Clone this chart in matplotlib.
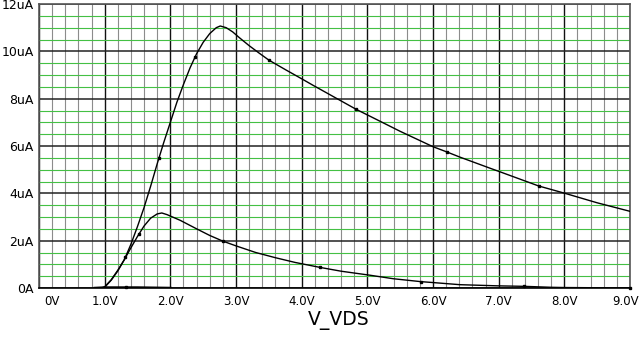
import matplotlib
matplotlib.use('Agg')

from matplotlib import pyplot as plt
from matplotlib.ticker import MultipleLocator
from matplotlib.transforms import ScaledTranslation

# upper trace (V, uA)
big_v = [0.85, 0.95, 1.0, 1.1, 1.2, 1.3, 1.4, 1.5, 1.6, 1.7, 1.8, 1.9, 2.0,
         2.1, 2.2, 2.3, 2.4, 2.5, 2.6, 2.7, 2.76, 2.85, 2.95, 3.05, 3.2,
         3.35, 3.5, 3.75, 4.0, 4.17, 4.5, 4.83, 5.14, 5.5, 6.0, 6.21, 6.41,
         6.87, 7.02, 7.61, 8.01, 8.5, 9.0]
big_i = [0.0, 0.0, 0.03, 0.33, 0.72, 1.2, 1.85, 2.6, 3.4, 4.3, 5.25, 6.15,
         7.0, 7.85, 8.6, 9.3, 9.9, 10.38, 10.75, 11.0, 11.07, 11.0, 10.82,
         10.58, 10.24, 9.93, 9.63, 9.23, 8.84, 8.57, 8.06, 7.55, 7.12, 6.62,
         5.97, 5.75, 5.53, 5.06, 4.91, 4.31, 4.0, 3.6, 3.24]
big_mark_v = [1.31, 1.83, 2.38, 3.5, 4.83, 6.21, 7.61]
big_mark_i = [1.3, 5.5, 9.77, 9.63, 7.55, 5.75, 4.31]

# lower trace
small_v = [0.95, 1.0, 1.1, 1.2, 1.3, 1.4, 1.5, 1.6, 1.7, 1.8, 1.87, 1.95,
           2.05, 2.15, 2.4, 2.6, 2.8, 3.0, 3.3, 3.6, 3.9, 4.28, 4.6, 5.04,
           5.4, 5.81, 6.0, 6.41, 7.0, 7.39, 7.8, 8.0, 9.0]
small_i = [0.0, 0.05, 0.35, 0.75, 1.2, 1.7, 2.18, 2.62, 2.95, 3.13, 3.17,
           3.1, 2.98, 2.86, 2.5, 2.22, 1.98, 1.78, 1.5, 1.28, 1.08, 0.87,
           0.71, 0.54, 0.39, 0.27, 0.23, 0.14, 0.09, 0.07, 0.03, 0.02, 0.0]
small_mark_v = [1.53, 2.8, 4.28, 5.81, 7.39, 9.0]
small_mark_i = [2.3, 1.98, 0.87, 0.27, 0.07, 0.0]

# trace lying on zero
flat_v = [0.85, 1.0, 1.5, 2.0]
flat_i = [0.0, 0.02, 0.02, 0.0]
flat_mark_v = [1.33]
flat_mark_i = [0.03]

x_ticks = [0, 1, 2, 3, 4, 5, 6, 7, 8, 9]
x_labels = ['0V', '1.0V', '2.0V', '3.0V', '4.0V', '5.0V', '6.0V', '7.0V',
            '8.0V', '9.0V']
y_ticks = [0, 2, 4, 6, 8, 10, 12]
y_labels = ['0A', '2uA', '4uA', '6uA', '8uA', '10uA', '12uA']

fig = plt.figure(figsize=(6.41, 3.39), dpi=100)
ax = fig.add_axes([39 / 641, 51 / 339, 591 / 641, 284 / 339])

ax.plot(big_v, big_i, color='black', linewidth=1.0, zorder=3)
ax.plot(small_v, small_i, color='black', linewidth=1.0, zorder=3)
ax.plot(flat_v, flat_i, color='black', linewidth=1.8, zorder=3)
for mv, mi in [(big_mark_v, big_mark_i), (small_mark_v, small_mark_i),
               (flat_mark_v, flat_mark_i)]:
    ax.plot(mv, mi, 's', color='black', markersize=2.0, zorder=4,
            clip_on=False)

ax.set_xlim(0, 9)
ax.set_ylim(0, 12)
ax.set_xticks(x_ticks)
ax.set_xticklabels(x_labels, fontsize=8.5)
ax.set_yticks(y_ticks)
ax.set_yticklabels(y_labels, fontsize=9)
ax.xaxis.set_minor_locator(MultipleLocator(0.2))
ax.yaxis.set_minor_locator(MultipleLocator(0.5))
ax.tick_params(which='both', length=0)
ax.tick_params(axis='x', pad=5)
ax.tick_params(axis='y', pad=4)

# "0V" sits a bit right of the axis, "9.0V" pulled in from the edge
xl = ax.get_xticklabels()
xl[0].set_transform(xl[0].get_transform() +
                    ScaledTranslation(13 / 100, 0, fig.dpi_scale_trans))
xl[-1].set_transform(xl[-1].get_transform() +
                     ScaledTranslation(-4 / 100, 0, fig.dpi_scale_trans))

ax.set_axisbelow(True)
ax.xaxis.grid(True, which='minor', color='#8c8c8c', linewidth=0.8)
ax.yaxis.grid(True, which='minor', color='#44c044', linewidth=0.8)
ax.xaxis.grid(True, which='major', color='#111111', linewidth=1.0)
ax.yaxis.grid(True, which='major', color='#222222', linewidth=1.1)

for side in ['left', 'right', 'top', 'bottom']:
    ax.spines[side].set_color('#555555')
    ax.spines[side].set_linewidth(1.2)
ax.spines['bottom'].set_color('black')

fig.text(339 / 641, 1 - 321 / 339, 'V_VDS', ha='center', va='center',
         fontsize=13.5)

plt.savefig('out.png')
plt.close()
